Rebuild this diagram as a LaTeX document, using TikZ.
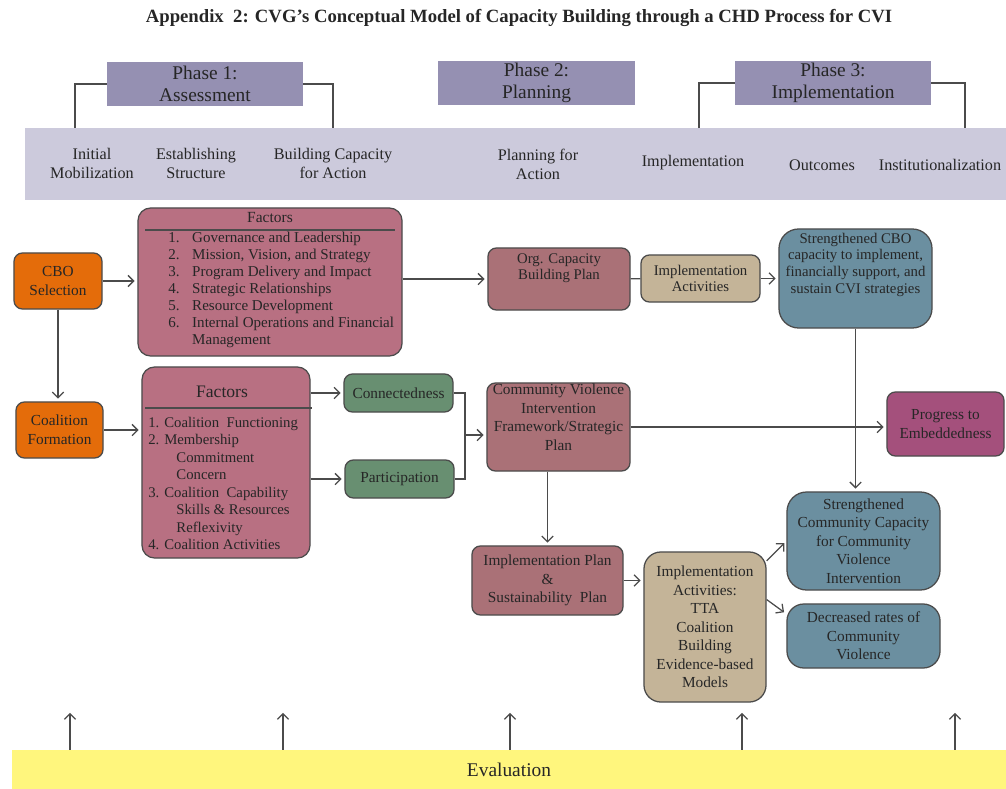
\documentclass[tikz,border=0pt]{standalone}
\usepackage{fontspec}
\setmainfont{Liberation Serif}
\usetikzlibrary{positioning,arrows.meta}

\definecolor{phasecol}{RGB}{149,144,178}
\definecolor{bandcol}{RGB}{204,202,220}
\definecolor{orangecol}{RGB}{228,108,10}
\definecolor{faccol}{RGB}{184,112,130}
\definecolor{rosecol}{RGB}{170,113,119}
\definecolor{tancol}{RGB}{196,180,152}
\definecolor{bluecol}{RGB}{107,143,160}
\definecolor{greencol}{RGB}{104,143,113}
\definecolor{magcol}{RGB}{164,80,124}
\definecolor{yellowcol}{RGB}{255,246,125}
\definecolor{linecol}{RGB}{75,75,75}

\begin{document}
\begin{tikzpicture}[
		x=0.025cm, y=-0.025cm,
		>={Straight Barb[length=4pt,width=8pt]},
		every node/.append style={text=black!85},
		phase/.style={fill=phasecol, minimum width=4.9cm, minimum height=1.1cm, inner sep=0pt, align=center, font=\fontsize{13.8}{16}\selectfont},
		stage/.style={align=center, font=\fontsize{11.5}{13.5}\selectfont},
		box/.style={draw=linecol, line width=0.9pt, rounded corners=6pt, align=center, inner sep=1pt, font=\fontsize{10.9}{13.2}\selectfont},
		boxtext/.style={align=center, inner sep=0pt, font=\fontsize{10.9}{13.2}\selectfont},
		tight/.style={font=\fontsize{10.5}{12}\selectfont},
		link/.style={draw=linecol, line width=0.9pt},
		arrow/.style={link, ->, shorten >=2pt}
	]

		\useasboundingbox (0,0) rectangle (1006,789);

		% Title
		\node[font=\bfseries\fontsize{13.3}{15}\selectfont] (title) at (519,18) {Appendix\ \ 2: CVG’s Conceptual Model of Capacity Building through a CHD Process for CVI};

		% Phases
		\node[phase] (ph1) at (205,84) {Phase 1:\\Assessment};
		\node[phase, minimum width=4.925cm] (ph2) at (536.5,83) {Phase 2:\\Planning};
		\node[phase] (ph3) at (833,83) {Phase 3:\\Implementation};

		% Stages
		\node[fill=bandcol, minimum width=24.525cm, minimum height=1.8cm, inner sep=0pt] (band) at (515.5,164) {};
		\node[stage] (mob) at (92,163) {Initial\\Mobilization};
		\node[stage] (struct) at (196,163) {Establishing\\Structure};
		\node[stage] (build) at (333,163) {Building Capacity\\for Action};
		\node[stage] (plan) at (538,164) {Planning for\\Action};
		\node[stage] (stimpl) at (693,163) {Implementation};
		\node[stage] (outc) at (822,165) {Outcomes};
		\node[stage] (inst) at (940,165) {Institutionalization};

		\coordinate (b1l) at (75,128);
		\coordinate (b1r) at (333,128);
		\coordinate (b3l) at (699,128);
		\coordinate (b3r) at (965,128);
		\draw[link] (ph1.west) -| (b1l);
		\draw[link] (ph1.east) -| (b1r);
		\draw[link] (ph3.west) -| (b3l);
		\draw[link] (ph3.east) -| (b3r);

		% CBO row
		\node[box, fill=orangecol, minimum width=2.2cm, minimum height=1.4cm] (cbo) at (58,281) {CBO\\Selection};
		\node[box, fill=faccol, rounded corners=9pt, minimum width=6.6cm, minimum height=3.7cm] (fac1) at (270,282) {};
		\node[font=\fontsize{11}{13}\selectfont] (fac1head) at (270,218) {Factors};
		\draw[link] (145,230) -- (395,230);
		\node[anchor=north west, inner sep=0pt, font=\fontsize{10.7}{12.1}\selectfont] (fac1list) at (168,230) {%
			\begin{tabular}{@{}r@{\hspace{9pt}}l@{}}
				1. & Governance and Leadership\\
				2. & Mission, Vision, and Strategy\\
				3. & Program Delivery and Impact\\
				4. & Strategic Relationships\\
				5. & Resource Development\\
				6. & Internal Operations and Financial\\
				   & Management
			\end{tabular}};
		\node[box, fill=rosecol, minimum width=3.55cm, minimum height=1.55cm] (org) at (559,279) {};
		\node[boxtext, tight, below=4pt of org.north] (orgtext) {Org. Capacity\\Building Plan};
		\node[box, tight, fill=tancol, minimum width=2.975cm, minimum height=1.175cm] (impa) at (700.5,278.5) {Implementation\\Activities};
		\node[box, fill=bluecol, rounded corners=14pt, minimum width=3.825cm, minimum height=2.475cm] (scbo) at (855.5,278.5) {};
		\node[boxtext, tight, below=3pt of scbo.north] (scbotext) {Strengthened CBO\\capacity to implement,\\financially support, and\\sustain CVI strategies};

		% Coalition row
		\node[box, fill=orangecol, minimum width=2.175cm, minimum height=1.4cm] (coal) at (59.5,430) {Coalition\\Formation};
		\node[box, fill=faccol, rounded corners=9pt, minimum width=4.2cm, minimum height=4.775cm] (fac2) at (226,462.5) {};
		\node[font=\fontsize{12.5}{14}\selectfont] (fac2head) at (222,392) {Factors};
		\draw[link] (145,408) -- (312,408);
		\node[anchor=north west, inner sep=0pt, font=\fontsize{10.5}{12.4}\selectfont] (fac2list) at (148,415) {%
			\begin{tabular}{@{}l@{}}
				1. Coalition\ \ Functioning\\
				2. Membership\\
				\hspace{20pt}Commitment\\
				\hspace{20pt}Concern\\
				3. Coalition\ \ Capability\\
				\hspace{20pt}Skills \&\ Resources\\
				\hspace{20pt}Reflexivity\\
				4. Coalition\ Activities
			\end{tabular}};
		\node[box, fill=greencol, minimum width=2.725cm, minimum height=0.95cm] (conn) at (398.5,393) {Connectedness};
		\node[box, fill=greencol, minimum width=2.725cm, minimum height=0.95cm] (part) at (399.5,479) {Participation};
		\node[box, fill=rosecol, minimum width=3.575cm, minimum height=2.2cm] (cvi) at (558.5,427) {};
		\node[boxtext, below=1pt of cvi.north] (cvitext) {Community Violence\\Intervention\\Framework/Strategic\\Plan};
		\node[box, fill=magcol, minimum width=2.925cm, minimum height=1.6cm] (prog) at (945.5,424) {Progress to\\Embeddedness};

		% Implementation row
		\node[box, fill=rosecol, minimum width=3.775cm, minimum height=1.725cm] (iplan) at (547.5,580.5) {Implementation Plan\\\&\\Sustainability\ \ Plan};
		\node[box, fill=tancol, rounded corners=12pt, minimum width=3.05cm, minimum height=3.75cm] (impb) at (705,627) {Implementation\\Activities:\\TTA\\Coalition\\Building\\Evidence-based\\Models};
		\node[box, fill=bluecol, rounded corners=14pt, minimum width=3.825cm, minimum height=2.45cm] (scom) at (863.5,541) {Strengthened\\Community Capacity\\for Community\\Violence\\Intervention};
		\node[box, fill=bluecol, rounded corners=12pt, minimum width=3.825cm, minimum height=1.6cm] (decr) at (863.5,636) {Decreased rates of\\Community\\Violence};

		% Evaluation
		\node[fill=yellowcol, minimum width=24.85cm, minimum height=0.975cm, inner sep=0pt, font=\fontsize{13.8}{16}\selectfont] (eval) at (509,769.5) {Evaluation};

		% Connectors
		\draw[arrow] (cbo.east) -- (cbo.east -| fac1.west);
		\draw[arrow] (fac1.east |- org) -- (org);
		\draw[link] (org) -- (impa);
		\draw[arrow] (impa) -- (scbo);
		\draw[arrow] (scbo.south) -- (scbo.south |- scom.north);
		\draw[arrow] (cbo.south) -- (cbo.south |- coal.north);
		\draw[arrow] (coal.east) -- (coal.east -| fac2.west);
		\draw[arrow] (fac2.east |- conn) -- (conn);
		\draw[arrow] (fac2.east |- part) -- (part);
		\coordinate (join) at (465,435);
		\draw[link] (conn.east) -| (join) |- (part.east);
		\draw[arrow] (join) -- (join -| cvi.west);
		\draw[arrow] (cvi.east) -- (cvi.east -| prog.west);
		\draw[arrow] (iplan.north |- cvi.south) -- (iplan.north);
		\draw[arrow] (iplan.east) -- (iplan.east -| impb.west);
		\draw[arrow] (impb.47) -- (scom.west);
		\draw[arrow] (impb.24) -- (decr.164);
		\foreach \x [count=\i] in {70,283,510,742,955} {
			\coordinate (ev\i) at (\x,710);
			\draw[arrow] (eval.north -| ev\i) -- (ev\i);
		}
	\end{tikzpicture}
\end{document}
